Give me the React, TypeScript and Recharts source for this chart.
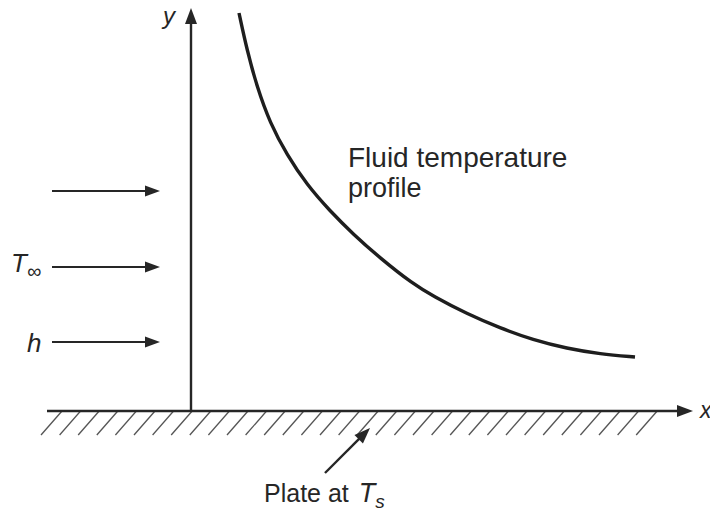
import React from 'react'
import { ComposedChart, Line, XAxis, YAxis, ReferenceLine, ReferenceDot } from 'recharts'

// fluid temperature profile (x along the plate, y normal to it)
const profileX = [0.48, 0.56, 0.66, 0.79, 0.96, 1.16, 1.39, 1.62, 1.89, 2.22, 2.42, 2.76, 3.09, 3.42, 3.76, 4.09, 4.44]
const profileY = [3.98, 3.61, 3.24, 2.88, 2.56, 2.26, 2.0, 1.77, 1.53, 1.27, 1.15, 0.97, 0.83, 0.71, 0.625, 0.57, 0.54]

// free stream arrows coming in from the left
const flowArrowY = [2.2, 1.44, 0.69]
const flowArrowFrom = -1.39
const flowArrowTo = -0.31

// hatch marks under the plate
const hatchStart = -1.29
const hatchStep = 0.186
const hatchCount = 33

const data = profileX.map((x, i) => ({ x, y: profileY[i] }))

const ink = '#262626'
const font = '"Liberation Sans", Arial, sans-serif'

const arrowShape = (head: number, half: number, width: number) => (props: any) => {
  const { x1, y1, x2, y2 } = props
  const dx = x2 - x1
  const dy = y2 - y1
  const len = Math.hypot(dx, dy) || 1
  const ux = dx / len
  const uy = dy / len
  const bx = x2 - ux * head
  const by = y2 - uy * head
  const px = -uy * half
  const py = ux * half
  return (
    <g>
      <line x1={x1} y1={y1} x2={bx + ux * 2} y2={by + uy * 2} stroke={ink} strokeWidth={width} />
      <polygon points={`${x2},${y2} ${bx + px},${by + py} ${bx - px},${by - py}`} fill={ink} />
    </g>
  )
}

const textShape = (content: React.ReactNode, size: number, italic = false) => (props: any) => (
  <text x={props.cx} y={props.cy} fill={ink} fontSize={size} fontFamily={font} fontStyle={italic ? 'italic' : 'normal'}>
    {content}
  </text>
)

export default function App() {
  const hatches = Array.from({ length: hatchCount }, (_, i) => hatchStart + i * hatchStep)
  return (
    <div style={{ position: 'absolute', left: 0, top: 0, background: '#fff' }}>
      <ComposedChart width={710} height={511} data={data} margin={{ top: 0, right: 0, bottom: 0, left: 0 }}>
        <XAxis type="number" dataKey="x" domain={[-1.91, 5.19]} allowDataOverflow hide />
        <YAxis type="number" domain={[-1.0, 4.11]} allowDataOverflow hide />

        {hatches.map((hx) => (
          <ReferenceLine
            key={hx}
            segment={[{ x: hx, y: 0 }, { x: hx - 0.21, y: -0.24 }]}
            stroke="#555"
            strokeWidth={1.3}
            ifOverflow="visible"
          />
        ))}

        {/* plate / x axis */}
        <ReferenceLine segment={[{ x: -1.44, y: 0 }, { x: 5.02, y: 0 }]} ifOverflow="visible" shape={arrowShape(16, 6, 2.6)} />
        {/* y axis */}
        <ReferenceLine segment={[{ x: 0, y: 0 }, { x: 0, y: 4.03 }]} ifOverflow="visible" shape={arrowShape(16, 6, 2.4)} />

        {flowArrowY.map((fy) => (
          <ReferenceLine
            key={fy}
            segment={[{ x: flowArrowFrom, y: fy }, { x: flowArrowTo, y: fy }]}
            ifOverflow="visible"
            shape={arrowShape(15, 5.5, 2.2)}
          />
        ))}

        {/* pointer to the plate */}
        <ReferenceLine segment={[{ x: 1.34, y: -0.62 }, { x: 1.79, y: -0.17 }]} ifOverflow="visible" shape={arrowShape(16, 6, 2.4)} />

        <Line
          type="basis"
          dataKey="y"
          stroke="#1e1e1e"
          strokeWidth={3.4}
          dot={false}
          activeDot={false}
          isAnimationActive={false}
        />

        <ReferenceDot x={1.57} y={2.44} r={1} ifOverflow="visible" shape={textShape('Fluid temperature', 28)} />
        <ReferenceDot x={1.57} y={2.14} r={1} ifOverflow="visible" shape={textShape('profile', 27)} />
        <ReferenceDot
          x={0.73}
          y={-0.905}
          r={1}
          ifOverflow="visible"
          shape={textShape(
            <>
              Plate at <tspan fontStyle="italic" fontSize={27} dx={3}>T</tspan>
              <tspan fontStyle="italic" fontSize={19} dy={6}>s</tspan>
            </>,
            25
          )}
        />
        <ReferenceDot
          x={-1.8}
          y={1.39}
          r={1}
          ifOverflow="visible"
          shape={textShape(
            <>
              T<tspan fontSize={20} dy={6}>∞</tspan>
            </>,
            26,
            true
          )}
        />
        <ReferenceDot x={-1.64} y={0.59} r={1} ifOverflow="visible" shape={textShape('h', 26, true)} />
        <ReferenceDot x={-0.28} y={3.87} r={1} ifOverflow="visible" shape={textShape('y', 24, true)} />
        <ReferenceDot x={5.09} y={-0.07} r={1} ifOverflow="visible" shape={textShape('x', 23, true)} />
      </ComposedChart>
    </div>
  )
}
